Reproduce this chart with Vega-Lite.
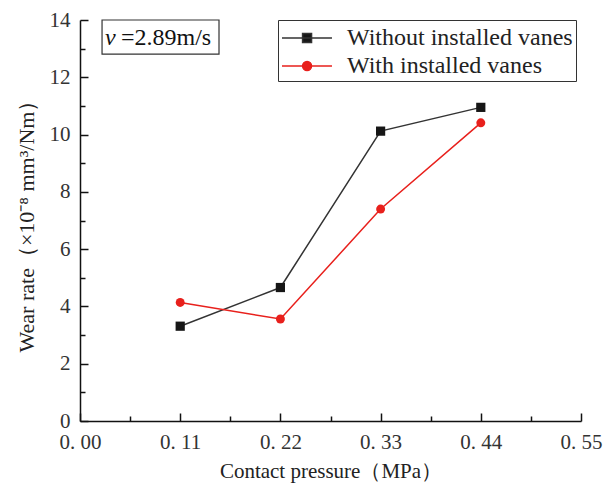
{
  "$schema": "https://vega.github.io/schema/vega-lite/v6.json",
  "width": 501,
  "height": 401,
  "autosize": {"type": "none"},
  "padding": {"left": 80, "top": 20, "right": 25, "bottom": 68},
  "config": {
    "view": {"stroke": null},
    "font": "Liberation Serif",
    "axis": {
      "domainColor": "#111",
      "domainWidth": 1.5,
      "tickColor": "#111",
      "tickWidth": 1.5,
      "labelFont": "Liberation Serif",
      "labelFontSize": 21,
      "labelColor": "#333",
      "titleFont": "Liberation Serif",
      "titleFontSize": 21,
      "titleFontWeight": "normal",
      "titleColor": "#222",
      "grid": false
    }
  },
  "data": {
    "values": [
      {"p": 0.11, "w": 3.31, "series": "Without installed vanes"},
      {"p": 0.22, "w": 4.66, "series": "Without installed vanes"},
      {"p": 0.33, "w": 10.12, "series": "Without installed vanes"},
      {"p": 0.44, "w": 10.95, "series": "Without installed vanes"},
      {"p": 0.11, "w": 4.14, "series": "With installed vanes"},
      {"p": 0.22, "w": 3.56, "series": "With installed vanes"},
      {"p": 0.33, "w": 7.40, "series": "With installed vanes"},
      {"p": 0.44, "w": 10.41, "series": "With installed vanes"}
    ]
  },
  "encoding": {
    "x": {
      "field": "p",
      "type": "quantitative",
      "scale": {"domain": [0, 0.55], "nice": false, "zero": true},
      "axis": {
        "title": "Contact pressure（MPa）",
        "values": [0, 0.055, 0.11, 0.165, 0.22, 0.275, 0.33, 0.385, 0.44, 0.495, 0.55],
        "labelExpr": "round(datum.value*200) % 22 === 0 ? replace(format(datum.value, '.2f'), '.', '. ') : ''",
        "tickSize": {"condition": {"test": "round(datum.value*200) % 22 === 0", "value": -8}, "value": -5},
        "labelPadding": 18,
        "titlePadding": 8,
        "labelFlush": false
      }
    },
    "y": {
      "field": "w",
      "type": "quantitative",
      "scale": {"domain": [0, 14], "nice": false},
      "axis": {
        "title": "Wear rate（×10⁻⁸ mm³/Nm）",
        "titleFontSize": 22,
        "values": [0, 1, 2, 3, 4, 5, 6, 7, 8, 9, 10, 11, 12, 13, 14],
        "labelExpr": "datum.value % 2 === 0 ? format(datum.value, 'd') : ''",
        "tickSize": {"condition": {"test": "datum.value % 2 === 0", "value": -8}, "value": -5},
        "labelPadding": 18,
        "titlePadding": 11,
        "labelFlush": false
      }
    }
  },
  "layer": [
    {
      "mark": {"type": "line", "strokeWidth": 1.5},
      "encoding": {
        "stroke": {
          "field": "series",
          "type": "nominal",
          "scale": {"domain": ["Without installed vanes", "With installed vanes"], "range": ["#333333", "#e8201c"]},
          "legend": {
            "orient": "none",
            "legendX": 198,
            "legendY": 0,
            "title": null,
            "strokeColor": "#333",
            "fillColor": "white",
            "padding": 3,
            "rowPadding": 1,
            "labelFont": "Liberation Serif",
            "labelFontSize": 24,
            "labelColor": "#222",
            "labelOffset": 36,
            "labelLimit": 0,
            "symbolSize": 784,
            "symbolStrokeWidth": 1.5,
            "symbolOpacity": 1
          }
        }
      }
    },
    {
      "transform": [{"filter": "false"}],
      "mark": {"type": "point", "filled": true, "opacity": 1},
      "encoding": {
        "color": {
          "field": "series",
          "type": "nominal",
          "scale": {"domain": ["Without installed vanes", "With installed vanes"], "range": ["#161616", "#e8201c"]}
        },
        "shape": {
          "field": "series",
          "type": "nominal",
          "scale": {
            "domain": ["Without installed vanes", "With installed vanes"],
            "range": ["M-1,0H2.57M0.47,-0.32H1.11V0.32H0.47Z", "M-1,0H2.57M1.11,0A0.32,0.32,0,1,1,0.47,0A0.32,0.32,0,1,1,1.11,0Z"]
          }
        }
      }
    },
    {
      "transform": [{"filter": "datum.series === 'Without installed vanes'"}],
      "mark": {"type": "point", "filled": true, "opacity": 1, "size": 85, "shape": "square", "color": "#161616"}
    },
    {
      "transform": [{"filter": "datum.series === 'With installed vanes'"}],
      "mark": {"type": "point", "filled": true, "opacity": 1, "size": 80, "shape": "circle", "color": "#e8201c"}
    },
    {
      "data": {"values": [{"x1": 0.0242, "x2": 0.1526, "y1": 12.81, "y2": 14}]},
      "mark": {"type": "rect", "fill": "white", "stroke": "#333", "strokeWidth": 1.2},
      "encoding": {
        "x": {"field": "x1", "type": "quantitative"},
        "x2": {"field": "x2"},
        "y": {"field": "y1", "type": "quantitative"},
        "y2": {"field": "y2"}
      }
    },
    {
      "data": {"values": [{"x": 0.0275, "y": 13.13, "t": "v"}]},
      "mark": {"type": "text", "font": "Liberation Serif", "fontStyle": "italic", "fontSize": 24, "align": "left", "baseline": "alphabetic", "color": "#111"},
      "encoding": {
        "x": {"field": "x", "type": "quantitative"},
        "y": {"field": "y", "type": "quantitative"},
        "text": {"field": "t"}
      }
    },
    {
      "data": {"values": [{"x": 0.045, "y": 13.13, "t": "=2.89m/s"}]},
      "mark": {"type": "text", "font": "Liberation Serif", "fontSize": 24, "align": "left", "baseline": "alphabetic", "color": "#111"},
      "encoding": {
        "x": {"field": "x", "type": "quantitative"},
        "y": {"field": "y", "type": "quantitative"},
        "text": {"field": "t"}
      }
    }
  ]
}
